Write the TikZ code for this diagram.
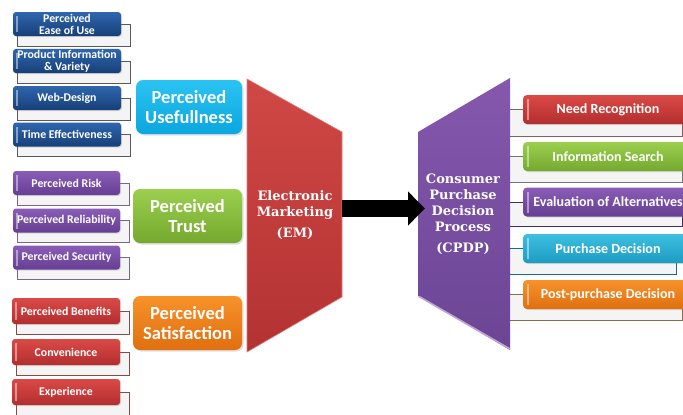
\documentclass[tikz,border=0pt]{standalone}
\usepackage{fontspec}
\setmainfont{Carlito}
\newfontfamily\serifbold{DejaVu Serif}
\usetikzlibrary{backgrounds,shadows,arrows.meta}
\pgfdeclarelayer{bottom}
\pgfsetlayers{bottom,background,main}
\definecolor{blueT}{HTML}{2F66AE}
\definecolor{blueB}{HTML}{173F78}
\definecolor{cyanT}{HTML}{2BC3F2}
\definecolor{cyanB}{HTML}{0AA6DF}
\definecolor{purT}{HTML}{8A5DB6}
\definecolor{purB}{HTML}{653E93}
\definecolor{grnT}{HTML}{9CCF4E}
\definecolor{grnB}{HTML}{74A92E}
\definecolor{redT}{HTML}{DA4A47}
\definecolor{redB}{HTML}{B22E2E}
\definecolor{orT}{HTML}{F7922A}
\definecolor{orB}{HTML}{E06F10}
\definecolor{emT}{HTML}{D04846}
\definecolor{emB}{HTML}{B33232}
\definecolor{cpT}{HTML}{8558AE}
\definecolor{cpB}{HTML}{6B4594}
\definecolor{tealT}{HTML}{3CBFE0}
\definecolor{tealB}{HTML}{1E9CC2}
\definecolor{backfill}{HTML}{F4F4F4}
\begin{document}
\begin{tikzpicture}[x=1pt,y=-1pt,
  hilite/.style={path picture={\draw[white, opacity=0.45, line width=1.2pt]
     ([xshift=#1,yshift=-4pt]path picture bounding box.north west) --
     ([xshift=#1,yshift=4pt]path picture bounding box.south west);}},
  smallbox/.style={rounded corners=3pt, minimum width=108pt, minimum height=24pt,
    inner sep=1pt, text=white, align=center, font=\fontsize{11.8}{12}\selectfont\bfseries,
    hilite=4pt,
    drop shadow={shadow xshift=1pt, shadow yshift=-1pt, opacity=0.25}},
  sblue/.style={smallbox, top color=blueT, bottom color=blueB},
  spur/.style={smallbox, top color=purT, bottom color=purB},
  sred/.style={smallbox, top color=redT, bottom color=redB, minimum height=26pt},
  bigbox/.style={rounded corners=7pt, minimum height=54pt, inner sep=1pt, text=white,
    align=center, font=\fontsize{18.5}{20}\selectfont\bfseries,
    drop shadow={shadow xshift=1.5pt, shadow yshift=-1.5pt, opacity=0.25}},
  rightbox/.style={rounded corners=4pt, minimum width=170pt, minimum height=29pt,
    inner sep=1pt, text=white, font=\fontsize{14}{15}\selectfont\bfseries,
    hilite=5pt,
    drop shadow={shadow xshift=1pt, shadow yshift=-1pt, opacity=0.25}},
  backL/.style={fill=backfill, draw=#1, line width=0.8pt},
  shapetext/.style={text=white, align=center, font=\serifbold\fontsize{13}{16}\selectfont\bfseries}
]
\useasboundingbox (0,0) rectangle (683,415);
\begin{pgfonlayer}{bottom}
\fill[white] (0,0) rectangle (683,415);
\end{pgfonlayer}
\clip (0,0) rectangle (683,415);

% left small boxes
\node[sblue] (b1) at (67,24) {Perceived\\Ease of Use};
\node[sblue] (b2) at (67,61) {Product Information\\\& Variety};
\node[sblue] (b3) at (67,98) {Web-Design};
\node[sblue] (b4) at (67,134.5) {Time Effectiveness};
\node[spur, minimum width=107pt] (p1) at (66.5,183) {Perceived Risk};
\node[spur, minimum width=107pt] (p2) at (66.5,220.5) {Perceived Reliability};
\node[spur, minimum width=107pt] (p3) at (66.5,257.5) {Perceived Security};
\node[sred] (r1) at (66,311) {Perceived Benefits};
\node[sred] (r2) at (66,352) {Convenience};
\node[sred] (r3) at (66,392) {Experience};

% big boxes
\node[bigbox, minimum width=106pt, top color=cyanT, bottom color=cyanB] (pu) at (189,107) {Perceived\\Usefullness};
\node[bigbox, minimum width=109pt, top color=grnT, bottom color=grnB] (pt) at (187.5,216) {Perceived\\Trust};
\node[bigbox, minimum width=109pt, top color=orT, bottom color=orB] (ps) at (187.5,323) {Perceived\\Satisfaction};

% EM shape
\shade[top color=emT, bottom color=emB, draw=emT!70!white, line width=0.6pt]
  (247,79) -- (342,132) -- (342,297) -- (247,352) -- cycle;
\node[shapetext] (em) at (295,215) {Electronic\\Marketing\\[5pt](EM)};

% CPDP shape
\shade[top color=cpT, bottom color=cpB]
  (418,132) -- (510,78) -- (510,350) -- (418,296) -- cycle;
\draw[line width=1.6pt, color=purT!55!white] (419,296.5) -- (510,349);
\node[shapetext] (cp) at (463,214) {Consumer\\Purchase\\Decision\\Process\\[5pt](CPDP)};

\coordinate (emR) at (342,208.5);
\coordinate (cpL) at (425,208.5);
\draw[line width=17pt, black, -{Triangle[length=17pt,width=33pt]}] (emR) -- (cpL);

% right boxes
\node[rightbox, top color=redT, bottom color=redB] (n1) at (608,109.5) {Need Recognition};
\node[rightbox, top color=grnT, bottom color=grnB] (n2) at (608,156.5) {Information Search};
\node[rightbox, top color=purT, bottom color=purB] (n3) at (608,202) {Evaluation of Alternatives};
\node[rightbox, top color=tealT, bottom color=tealB] (n4) at (608,248.5) {Purchase Decision};
\node[rightbox, top color=orT, bottom color=orB] (n5) at (608,294.5) {Post-purchase Decision};

\begin{scope}[on background layer]
  \foreach \n in {b1,b2,b3,b4}
    \draw[backL=black!65] ([xshift=5pt]\n.west) rectangle ([xshift=9pt,yshift=-10pt]\n.south east);
  \foreach \n in {p1,p2,p3}
    \draw[backL=purB!60!black!70] ([xshift=5pt]\n.west) rectangle ([xshift=9pt,yshift=-10pt]\n.south east);
  \foreach \n in {r1,r2,r3}
    \draw[backL=redB!60!black!80] ([xshift=5pt]\n.west) rectangle ([xshift=9pt,yshift=-10pt]\n.south east);
  \draw[backL=redB!50!black!70] ([xshift=-13pt]n1.west) rectangle ([xshift=-11pt,yshift=-12pt]n1.south east);
  \draw[backL=black!55] ([xshift=-13pt]n2.west) rectangle ([xshift=-11pt,yshift=-11pt]n2.south east);
  \draw[backL=purB!70!black] ([xshift=-13pt]n3.west) rectangle ([xshift=-11pt,yshift=-10pt]n3.south east);
  \draw[backL=tealB!70!black] ([xshift=-13pt]n4.west) rectangle ([xshift=-17pt,yshift=-11pt]n4.south east);
  \draw[backL=orB!40!black!70] ([xshift=-13pt]n5.west) rectangle ([xshift=-11pt,yshift=-11pt]n5.south east);
\end{scope}
\end{tikzpicture}
\end{document}
